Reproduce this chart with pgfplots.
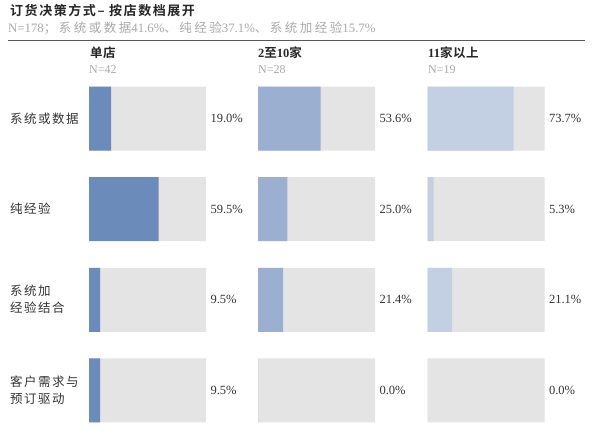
\documentclass[border=0pt]{standalone}
\usepackage{fontspec}
\usepackage{pgfplots}
\usepackage{pgfplotstable}
\pgfplotsset{compat=1.18}
\setmainfont{Liberation Serif}
\newfontfamily\cjk[BoldFont={Noto Sans CJK SC Bold}, LetterSpace=12]{Noto Sans CJK SC}
\newfontfamily\cjks[LetterSpace=20]{Noto Sans CJK SC}
\newfontfamily\cjkt[BoldFont={Noto Sans CJK SC Bold}, LetterSpace=4]{Noto Sans CJK SC}
\newfontfamily\cjktt[BoldFont={Noto Sans CJK SC Bold}, LetterSpace=12]{Noto Sans CJK SC}
\definecolor{bggrey}{HTML}{E4E4E4}
\definecolor{cA}{HTML}{6B8CBB}
\definecolor{cB}{HTML}{9BAFD0}
\definecolor{cC}{HTML}{C3CFE3}
\definecolor{subgrey}{HTML}{A8A8A8}
\definecolor{txt}{HTML}{333333}

\pgfplotstableread{
y g v
0 100 19.0
1 100 59.5
2 100 9.5
3 100 9.5
}\dataA
\pgfplotstableread{
y g v
0 100 53.6
1 100 25.0
2 100 21.4
3 100 0.0
}\dataB
\pgfplotstableread{
y g v
0 100 73.7
1 100 5.3
2 100 21.1
3 100 0.0
}\dataC

\newcommand{\panel}[3]{%
\begin{axis}[at={(#1pt,-422.3pt)}, anchor=south west, scale only axis,
  width=117pt, height=335.6pt, xmin=0, xmax=100,
  ymin=-0.3536, ymax=3.3536, y dir=reverse, hide axis, clip=false,
  xbar, bar width=64pt]
\addplot[fill=bggrey, draw=none, bar shift=0pt, point meta=explicit,
  nodes near coords={\pgfmathprintnumber[fixed,fixed zerofill,precision=1,assume math mode=true]{\pgfplotspointmeta}\%},
  nodes near coords style={anchor=west, xshift=1pt, text=txt, font=\fontsize{12.5}{14}\selectfont}]
  table[x=g, y=y, meta=v] {#2};
\addplot[fill=#3, draw=none, bar shift=0pt] table[x=v, y=y] {#2};
\end{axis}}

\begin{document}
\begin{tikzpicture}
\path[use as bounding box] (0pt,0pt) rectangle (600pt,-439pt);
\node[anchor=west, inner sep=0pt, font=\cjktt\bfseries\fontsize{13}{15}\selectfont, text=black!85] at (10pt,-11pt) {订货决策方式– 按店数档展开};
\node[anchor=west, inner sep=0pt, text=subgrey, font=\fontsize{12.8}{14}\selectfont] at (8pt,-28pt) {N=178{\cjks\fontsize{12.5}{14}\selectfont；系统或数据}41.6\%{\cjks\fontsize{12.5}{14}\selectfont、纯经验}37.1\%{\cjks\fontsize{12.5}{14}\selectfont、系统加经验}15.7\%};
\draw[line width=1.2pt, black!65] (8pt,-40.5pt) -- (585pt,-40.5pt);
% headers
\node[anchor=west, inner sep=0pt, text=black!85, font=\bfseries\fontsize{12.5}{14}\selectfont] at (90pt,-53pt) {{\cjkt 单店}};
\node[anchor=west, inner sep=0pt, text=black!85, font=\bfseries\fontsize{12.5}{14}\selectfont] at (258pt,-53pt) {2{\cjkt 至}10{\cjkt 家}};
\node[anchor=west, inner sep=0pt, text=black!85, font=\bfseries\fontsize{12.5}{14}\selectfont] at (428pt,-53pt) {11{\cjkt 家以上}};
\node[anchor=west, inner sep=0pt, text=subgrey, font=\fontsize{12}{14}\selectfont] at (89pt,-70pt) {N=42};
\node[anchor=west, inner sep=0pt, text=subgrey, font=\fontsize{12}{14}\selectfont] at (258pt,-70pt) {N=28};
\node[anchor=west, inner sep=0pt, text=subgrey, font=\fontsize{12}{14}\selectfont] at (428pt,-70pt) {N=19};
% row labels
\node[anchor=west, inner sep=0pt, text=txt, font=\cjk\fontsize{12.5}{17.5}\selectfont] at (10pt,-119pt) {系统或数据};
\node[anchor=west, inner sep=0pt, text=txt, font=\cjk\fontsize{12.5}{17.5}\selectfont] at (10pt,-209pt) {纯经验};
\node[anchor=west, inner sep=0pt, align=left, text=txt, font=\cjk\fontsize{12.5}{17.5}\selectfont] at (10pt,-299pt) {系统加\\经验结合};
\node[anchor=west, inner sep=0pt, align=left, text=txt, font=\cjk\fontsize{12.5}{17.5}\selectfont] at (10pt,-390pt) {客户需求与\\预订驱动};
\panel{89}{\dataA}{cA}
\panel{258}{\dataB}{cB}
\panel{427.5}{\dataC}{cC}
\end{tikzpicture}
\end{document}
